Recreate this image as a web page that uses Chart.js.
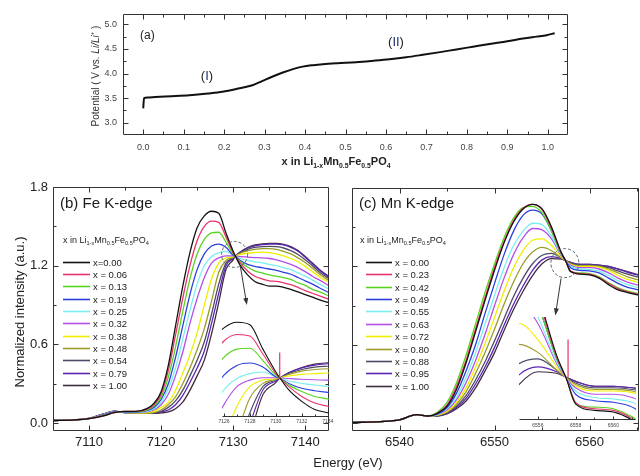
<!DOCTYPE html>
<html><head><meta charset="utf-8">
<script src="https://cdn.jsdelivr.net/npm/chart.js@4/dist/chart.umd.min.js"></script>
<style>
html,body{margin:0;padding:0;background:#fff;width:640px;height:476px;overflow:hidden}
canvas{position:absolute;left:0;top:0}
</style>
</head><body>
<canvas id="ca" width="640" height="476"></canvas>
<canvas id="cb" width="640" height="476"></canvas>
<canvas id="cc" width="640" height="476"></canvas>
<canvas id="ib" width="640" height="476"></canvas>
<canvas id="ic" width="640" height="476"></canvas>
<script>
// ---------- DATA ----------
// (a) charge curve
const potX = [0, 0.002, 0.01, 0.031, 0.07, 0.114, 0.16, 0.196, 0.238, 0.27, 0.295, 0.32, 0.345, 0.37, 0.394, 0.42, 0.444, 0.48, 0.526, 0.57, 0.609, 0.65, 0.691, 0.73, 0.774, 0.815, 0.856, 0.9, 0.939, 0.972, 0.997, 1.017];
const potV = [3.29, 3.50, 3.51, 3.525, 3.54, 3.56, 3.595, 3.63, 3.70, 3.76, 3.85, 3.94, 4.02, 4.09, 4.14, 4.17, 4.19, 4.21, 4.23, 4.26, 4.29, 4.33, 4.38, 4.43, 4.49, 4.545, 4.60, 4.655, 4.71, 4.75, 4.78, 4.82];
const potXTicks = [0, 0.1, 0.2, 0.3, 0.4, 0.5, 0.6, 0.7, 0.8, 0.9, 1.0];
const potYTicks = [3.0, 3.5, 4.0, 4.5, 5.0];

// (b) Fe K-edge
const feE = [7105, 7108, 7110, 7112, 7113.5, 7115, 7116.5, 7118, 7119, 7120, 7121, 7122, 7123, 7124, 7125, 7126, 7127, 7128, 7129, 7130, 7130.3, 7131, 7132, 7133, 7134, 7135, 7136, 7137, 7138, 7139, 7140, 7141, 7142, 7143.5];
const fe000 = [0.02,0.025,0.035,0.055,0.08,0.09,0.09, 0.11,0.15,0.24,0.44,0.74,1.04,1.3,1.49,1.58,1.615,1.6,1.45,1.31,1.275,1.2,1.13,1.08,1.06,1.045,1.045,1.035,1.02,1.0,0.98,0.96,0.94,0.915];
const fe006 = [0.02,0.025,0.035,0.055,0.08,0.09,0.09, 0.105,0.14,0.22,0.4,0.67,0.95,1.2,1.39,1.5,1.54,1.53,1.42,1.3,1.274,1.22,1.16,1.12,1.1,1.085,1.08,1.07,1.055,1.035,1.01,0.99,0.97,0.94];
const fe013 = [0.02,0.025,0.035,0.058,0.082,0.088,0.088, 0.1,0.13,0.2,0.35,0.58,0.85,1.1,1.29,1.4,1.45,1.455,1.38,1.29,1.273,1.23,1.19,1.16,1.145,1.13,1.12,1.11,1.095,1.07,1.05,1.02,1.0,0.965];
const fe019 = [0.02,0.025,0.035,0.062,0.086,0.085,0.085, 0.095,0.12,0.18,0.3,0.5,0.74,0.98,1.17,1.29,1.35,1.365,1.34,1.28,1.272,1.24,1.21,1.195,1.185,1.175,1.165,1.15,1.135,1.11,1.085,1.06,1.03,0.99];
const fe025 = [0.02,0.025,0.035,0.062,0.086,0.084,0.082, 0.09,0.11,0.16,0.26,0.42,0.64,0.86,1.06,1.2,1.27,1.3,1.31,1.28,1.273,1.255,1.24,1.23,1.222,1.21,1.2,1.185,1.17,1.145,1.12,1.09,1.06,1.015];
const fe032 = [0.02,0.025,0.036,0.065,0.088,0.083,0.08, 0.085,0.1,0.14,0.22,0.36,0.54,0.76,0.95,1.11,1.22,1.26,1.275,1.275,1.274,1.27,1.265,1.262,1.26,1.255,1.245,1.23,1.21,1.185,1.155,1.12,1.09,1.04];
const fe038 = [0.02,0.025,0.036,0.065,0.088,0.082,0.078, 0.08,0.09,0.12,0.16,0.25,0.38,0.52,0.69,0.9,1.1,1.22,1.26,1.268,1.274,1.285,1.295,1.3,1.304,1.3,1.29,1.275,1.255,1.23,1.195,1.155,1.115,1.065];
const fe048 = [0.02,0.026,0.037,0.068,0.09,0.082,0.076, 0.075,0.08,0.1,0.14,0.2,0.3,0.42,0.56,0.72,0.93,1.15,1.24,1.265,1.274,1.295,1.315,1.325,1.33,1.33,1.325,1.31,1.29,1.26,1.225,1.18,1.135,1.08];
const fe054 = [0.02,0.026,0.037,0.068,0.09,0.08,0.075, 0.075,0.078,0.09,0.12,0.17,0.25,0.36,0.48,0.62,0.83,1.06,1.22,1.26,1.273,1.3,1.325,1.34,1.345,1.348,1.345,1.335,1.315,1.285,1.245,1.2,1.15,1.095];
const fe079 = [0.02,0.026,0.037,0.07,0.092,0.08,0.074, 0.075,0.076,0.085,0.1,0.14,0.21,0.31,0.42,0.55,0.76,0.99,1.2,1.255,1.272,1.305,1.335,1.352,1.36,1.365,1.365,1.358,1.34,1.31,1.265,1.215,1.165,1.105];
const fe100 = [0.02,0.026,0.037,0.07,0.092,0.08,0.074, 0.075,0.074,0.078,0.085,0.11,0.16,0.25,0.36,0.48,0.68,0.92,1.17,1.245,1.272,1.305,1.338,1.358,1.366,1.37,1.37,1.363,1.345,1.315,1.27,1.22,1.17,1.11];
const feLabels = ['x=0.00','x = 0.06','x = 0.13','x = 0.19','x = 0.25','x = 0.32','x = 0.38','x = 0.48','x = 0.54','x = 0.79','x = 1.00'];
const feXTicks = [7110, 7120, 7130, 7140];
const feInsetTicks = [7126, 7128, 7130, 7132, 7134];
const feMarkX = [7130.3, 7130.3];
const feMarkY = [1.272, 1.43];

// (c) Mn K-edge
const mnE = [6535, 6538, 6540, 6541.8, 6543, 6544, 6545, 6546, 6547, 6548, 6549, 6550, 6551, 6552, 6553, 6554, 6555, 6556, 6557, 6557.5, 6558, 6559, 6560, 6561, 6562, 6563, 6564, 6565.2];
const mn000 = [0.005,0.012,0.025,0.065,0.055, 0.075,0.13,0.26,0.46,0.7,0.94,1.17,1.38,1.54,1.64,1.675,1.64,1.5,1.31,1.24,1.16,1.14,1.135,1.11,1.06,1.02,1.0,0.98];
const mn023 = [0.005,0.012,0.025,0.065,0.055, 0.078,0.14,0.28,0.48,0.72,0.96,1.19,1.39,1.55,1.645,1.675,1.635,1.49,1.305,1.24,1.165,1.145,1.14,1.115,1.07,1.03,1.005,0.985];
const mn042 = [0.005,0.012,0.025,0.065,0.055, 0.085,0.16,0.31,0.52,0.76,1.0,1.22,1.42,1.57,1.65,1.66,1.61,1.47,1.3,1.24,1.16,1.15,1.145,1.12,1.075,1.035,1.01,0.99];
const mn049 = [0.005,0.012,0.025,0.065,0.055, 0.07,0.12,0.23,0.4,0.6,0.84,1.07,1.29,1.47,1.59,1.63,1.6,1.47,1.3,1.24,1.19,1.17,1.165,1.15,1.11,1.07,1.04,1.02];
const mn055 = [0.005,0.012,0.025,0.065,0.055, 0.068,0.11,0.2,0.35,0.54,0.76,0.98,1.19,1.36,1.47,1.53,1.52,1.43,1.29,1.24,1.2,1.18,1.175,1.165,1.13,1.09,1.06,1.035];
const mn063 = [0.005,0.012,0.025,0.065,0.055, 0.065,0.1,0.18,0.31,0.48,0.68,0.9,1.11,1.29,1.42,1.49,1.48,1.41,1.285,1.24,1.21,1.19,1.19,1.18,1.15,1.11,1.08,1.055];
const mn072 = [0.005,0.012,0.025,0.065,0.055, 0.062,0.09,0.16,0.27,0.43,0.61,0.81,1.01,1.19,1.32,1.4,1.41,1.36,1.275,1.24,1.215,1.2,1.2,1.195,1.17,1.13,1.1,1.075];
const mn080 = [0.005,0.012,0.025,0.065,0.055, 0.06,0.085,0.145,0.24,0.38,0.54,0.72,0.91,1.08,1.22,1.31,1.345,1.32,1.265,1.242,1.22,1.205,1.205,1.2,1.18,1.15,1.12,1.095];
const mn088 = [0.005,0.012,0.025,0.065,0.055, 0.058,0.08,0.13,0.21,0.33,0.47,0.63,0.8,0.97,1.11,1.22,1.285,1.3,1.265,1.243,1.225,1.21,1.21,1.205,1.19,1.165,1.14,1.115];
const mn095 = [0.005,0.012,0.025,0.065,0.055, 0.056,0.075,0.12,0.19,0.3,0.43,0.58,0.75,0.91,1.05,1.17,1.25,1.275,1.26,1.243,1.23,1.215,1.215,1.21,1.2,1.18,1.155,1.13];
const mn100 = [0.005,0.012,0.025,0.065,0.055, 0.055,0.07,0.11,0.17,0.27,0.4,0.54,0.71,0.87,1.01,1.13,1.22,1.26,1.255,1.243,1.23,1.215,1.215,1.21,1.2,1.18,1.16,1.135];
const mnLabels = ['x = 0.00','x = 0.23','x = 0.42','x = 0.49','x = 0.55','x = 0.63','x = 0.72','x = 0.80','x = 0.88','x = 0.95','x = 1.00'];
const mnXTicks = [6540, 6550, 6560];
const mnInsetTicks = [6556, 6558, 6560];
const mnMarkX = [6557.6, 6557.6];
const mnMarkY = [1.243, 1.36];

const intYTicks = [0, 0.6, 1.2, 1.8];

// ---------- STYLE ----------
const FONT = "'Liberation Sans', Arial, Helvetica, sans-serif";
const COLORS = ['#111111','#e8346c','#58d420','#2c3fe0','#7aeef0','#b450e6','#f2ee00','#9c9c28','#4b4b68','#5f24b4','#3e2c40'];
const PINK = '#e8346c';

const feSeries = [fe000, fe006, fe013, fe019, fe025, fe032, fe038, fe048, fe054, fe079, fe100];
const mnSeries = [mn000, mn023, mn042, mn049, mn055, mn063, mn072, mn080, mn088, mn095, mn100];

function pts(xs, ys) { return xs.map((x, i) => ({x: x, y: ys[i]})); }
function seriesSets(xs, list, lw) {
  return list.map((ys, i) => ({data: pts(xs, ys), borderColor: COLORS[i], borderWidth: lw, fill: false}));
}
function mids(arr, lo, hi) {
  const out = [];
  const step = arr[1] - arr[0];
  for (let v = arr[0] - step / 2; v <= arr[arr.length - 1] + step / 2 + 1e-9; v += step) {
    if (v > lo + 1e-9 && v < hi - 1e-9) out.push(v);
  }
  return out;
}

// ---------- PLUGINS ----------
const FRAME = {}, DECOR = {};

function drawRich(ctx, t) {
  const base = t.size;
  const segs = t.segs || [[t.text, '']];
  const fontOf = (k) => {
    const sz = (k === 'sub' || k === 'sup') ? base * 0.62 : base;
    return (k === 'i' || t.italic ? 'italic ' : '') + (t.bold ? 'bold ' : '') + sz + 'px ' + FONT;
  };
  let w = 0;
  segs.forEach(s => { ctx.font = fontOf(s[1]); w += ctx.measureText(s[0]).width; });
  ctx.save();
  ctx.translate(t.x, t.y);
  if (t.rot) ctx.rotate(-Math.PI / 2);
  let x0 = t.align === 'center' ? -w / 2 : 0;
  ctx.fillStyle = t.color || '#222';
  ctx.textBaseline = 'alphabetic';
  segs.forEach(s => {
    ctx.font = fontOf(s[1]);
    const dy = s[1] === 'sub' ? base * 0.25 : (s[1] === 'sup' ? -base * 0.42 : 0);
    if (s[2]) ctx.fillStyle = s[2]; else ctx.fillStyle = t.color || '#222';
    ctx.fillText(s[0], x0, base * 0.36 + dy);
    x0 += ctx.measureText(s[0]).width;
  });
  ctx.restore();
}

const framePlugin = {
  id: 'frame',
  afterDatasetsDraw(chart) {
    const o = FRAME[chart.canvas.id];
    if (!o) return;
    const ctx = chart.ctx, a = chart.chartArea, sx = chart.scales.x, sy = chart.scales.y;
    const L = Math.round(a.left) + 0.5, R = Math.round(a.right) - 0.5;
    const T = Math.round(a.top) + 0.5, B = Math.round(a.bottom) - 0.5;
    ctx.save();
    ctx.strokeStyle = o.color || '#333';
    ctx.lineWidth = 1;
    ctx.beginPath();
    if (o.bottomOnly) {
      ctx.moveTo(L, B); ctx.lineTo(R, B);
      o.xMajor.forEach(v => { const p = Math.round(sx.getPixelForValue(v)) + 0.5; ctx.moveTo(p, B); ctx.lineTo(p, B - 3); });
      (o.xMinor || []).forEach(v => { const p = Math.round(sx.getPixelForValue(v)) + 0.5; ctx.moveTo(p, B); ctx.lineTo(p, B - 2); });
      ctx.stroke(); ctx.restore(); return;
    }
    ctx.rect(L, T, R - L, B - T);
    const M = o.major, m = o.minor;
    o.xMajor.forEach(v => { const p = Math.round(sx.getPixelForValue(v)) + 0.5; ctx.moveTo(p, B); ctx.lineTo(p, B - M); ctx.moveTo(p, T); ctx.lineTo(p, T + M); });
    o.xMinor.forEach(v => { const p = Math.round(sx.getPixelForValue(v)) + 0.5; ctx.moveTo(p, B); ctx.lineTo(p, B - m); ctx.moveTo(p, T); ctx.lineTo(p, T + m); });
    o.yMajor.forEach(v => { const p = Math.round(sy.getPixelForValue(v)) + 0.5; ctx.moveTo(L, p); ctx.lineTo(L + M, p); ctx.moveTo(R, p); ctx.lineTo(R - M, p); });
    o.yMinor.forEach(v => { const p = Math.round(sy.getPixelForValue(v)) + 0.5; ctx.moveTo(L, p); ctx.lineTo(L + m, p); ctx.moveTo(R, p); ctx.lineTo(R - m, p); });
    ctx.stroke();
    ctx.restore();
  }
};

const decorPlugin = {
  id: 'decor',
  afterDraw(chart) {
    const o = DECOR[chart.canvas.id];
    if (!o) return;
    const ctx = chart.ctx, sx = chart.scales.x, sy = chart.scales.y;
    ctx.save();
    (o.circles || []).forEach(c => {
      ctx.beginPath();
      ctx.setLineDash([3, 2]);
      ctx.strokeStyle = '#5a6070';
      ctx.lineWidth = 1;
      ctx.ellipse(sx.getPixelForValue(c.x), sy.getPixelForValue(c.y), c.rx, c.ry, 0, 0, Math.PI * 2);
      ctx.stroke();
    });
    ctx.setLineDash([]);
    (o.arrows || []).forEach(a => {
      const x1 = sx.getPixelForValue(a.x1), y1 = sy.getPixelForValue(a.y1);
      const x2 = sx.getPixelForValue(a.x2), y2 = sy.getPixelForValue(a.y2);
      const ang = Math.atan2(y2 - y1, x2 - x1);
      ctx.strokeStyle = '#333'; ctx.fillStyle = '#333'; ctx.lineWidth = 1;
      ctx.beginPath(); ctx.moveTo(x1, y1); ctx.lineTo(x2 - 5 * Math.cos(ang), y2 - 5 * Math.sin(ang)); ctx.stroke();
      ctx.beginPath();
      ctx.moveTo(x2, y2);
      ctx.lineTo(x2 - 7 * Math.cos(ang) + 2.5 * Math.sin(ang), y2 - 7 * Math.sin(ang) - 2.5 * Math.cos(ang));
      ctx.lineTo(x2 - 7 * Math.cos(ang) - 2.5 * Math.sin(ang), y2 - 7 * Math.sin(ang) + 2.5 * Math.cos(ang));
      ctx.closePath(); ctx.fill();
    });
    (o.texts || []).forEach(t => drawRich(ctx, t));
    if (o.legend) {
      const L = o.legend;
      L.labels.forEach((lab, i) => {
        const y = Math.round(L.y0 + i * L.dy) + 0.5;
        ctx.strokeStyle = COLORS[i]; ctx.lineWidth = 1.6;
        ctx.beginPath(); ctx.moveTo(L.x1, y); ctx.lineTo(L.x2, y); ctx.stroke();
        ctx.fillStyle = '#222'; ctx.font = L.size + 'px ' + FONT; ctx.textBaseline = 'middle';
        ctx.fillText(lab, L.tx, y + 0.5);
      });
    }
    ctx.restore();
  }
};

function mkChart(id, datasets, o) {
  return new Chart(document.getElementById(id), {
    type: 'line',
    data: {datasets: datasets},
    options: {
      responsive: false, animation: false, events: [],
      layout: {padding: o.pad},
      plugins: {legend: {display: false}, tooltip: {enabled: false}},
      elements: {point: {radius: 0}, line: {cubicInterpolationMode: 'monotone'}},
      scales: {
        x: {
          type: 'linear', min: o.xmin, max: o.xmax,
          grid: {display: false, drawTicks: false}, border: {display: false},
          afterFit: s => { s.height = o.xh; },
          afterBuildTicks: s => { s.ticks = o.xticks.map(v => ({value: v})); },
          ticks: {font: {family: FONT, size: o.xfs}, color: o.tc, padding: o.xpad, maxRotation: 0, autoSkip: false,
                  callback: v => o.xfmt ? o.xfmt(v) : String(v)}
        },
        y: {
          type: 'linear', display: o.ydisp, min: o.ymin, max: o.ymax,
          grid: {display: false, drawTicks: false}, border: {display: false},
          afterFit: s => { s.width = o.yw; },
          afterBuildTicks: s => { s.ticks = (o.yticks || []).map(v => ({value: v})); },
          ticks: {font: {family: FONT, size: o.yfs || 10}, color: o.tc, padding: o.ypad || 5,
                  callback: v => Number(v).toFixed(1)}
        }
      }
    },
    plugins: [framePlugin, decorPlugin]
  });
}

const subF = [['x in Li', ''], ['1-x', 'sub'], ['Mn', ''], ['0.5', 'sub'], ['Fe', ''], ['0.5', 'sub'], ['PO', ''], ['4', 'sub']];

// ---------- (a) ----------
FRAME.ca = {xMajor: potXTicks, xMinor: mids(potXTicks, -0.05, 1.05), yMajor: potYTicks, yMinor: mids(potYTicks, 2.75, 5.21), major: 5, minor: 3};
DECOR.ca = {texts: [
  {x: 140, y: 35, text: '(a)', size: 12, color: '#222'},
  {x: 207, y: 75, align: 'center', size: 13, segs: [['(', ''], ['I', '', '#23306e'], [')', '']]},
  {x: 396, y: 41, align: 'center', size: 13, segs: [['(', ''], ['II', '', '#23306e'], [')', '']]},
  {x: 95, y: 76, rot: true, align: 'center', size: 10, color: '#333', segs: [['Potential ( V vs. ', ''], ['Li/Li', 'i'], ['+', 'sup'], [' )', '']]},
  {x: 336, y: 161, align: 'center', size: 11, bold: true, color: '#222', segs: subF}
]};
mkChart('ca', [{data: pts(potX, potV), borderColor: '#111', borderWidth: 2, fill: false}], {
  pad: {left: 0, top: 14, right: 72, bottom: 321},
  xmin: -0.05, xmax: 1.05, xh: 20, xticks: potXTicks, xfs: 9, xpad: 7, xfmt: v => Number(v).toFixed(1),
  ydisp: true, ymin: 2.75, ymax: 5.21, yw: 123, yticks: potYTicks, yfs: 9, ypad: 6, tc: '#444'
});

// ---------- (b) ----------
FRAME.cb = {xMajor: feXTicks, xMinor: mids(feXTicks, 7105, 7143.3), yMajor: intYTicks, yMinor: mids(intYTicks, -0.06, 1.8), major: 5, minor: 3};
DECOR.cb = {
  circles: [{x: 7130.2, y: 1.286, rx: 13, ry: 13}],
  arrows: [{x1: 7131.0, y1: 1.195, x2: 7131.9, y2: 0.9}],
  texts: [
    {x: 60, y: 203, text: '(b) Fe K-edge', size: 15, color: '#1a1a1a'},
    {x: 63, y: 240, size: 9, color: '#222', segs: subF},
    {x: 19, y: 312, rot: true, align: 'center', text: 'Normalized intensity (a.u.)', size: 13, color: '#222'},
    {x: 348, y: 462, align: 'center', text: 'Energy (eV)', size: 13, color: '#222'}
  ],
  legend: {labels: feLabels, x1: 63, x2: 90, tx: 93, y0: 261.7, dy: 12.33, size: 9.5}
};
mkChart('cb', seriesSets(feE, feSeries, 1.3), {
  pad: {left: 0, top: 187, right: 311, bottom: 25},
  xmin: 7105, xmax: 7143.3, xh: 20, xticks: feXTicks, xfs: 13, xpad: 4,
  ydisp: true, ymin: -0.06, ymax: 1.8, yw: 53, yticks: intYTicks, yfs: 13, ypad: 5, tc: '#222'
});

// ---------- (c) ----------
FRAME.cc = {xMajor: mnXTicks, xMinor: mids(mnXTicks, 6535, 6565.2), yMajor: intYTicks, yMinor: mids(intYTicks, -0.06, 1.8), major: 5, minor: 3};
DECOR.cc = {
  circles: [{x: 6557.4, y: 1.225, rx: 14, ry: 14.5}],
  arrows: [{x1: 6557.0, y1: 1.108, x2: 6556.4, y2: 0.825}],
  texts: [
    {x: 359, y: 203, text: '(c) Mn K-edge', size: 15, color: '#1a1a1a'},
    {x: 360, y: 240, size: 9, color: '#222', segs: subF}
  ],
  legend: {labels: mnLabels, x1: 366, x2: 392, tx: 395, y0: 261.7, dy: 12.4, size: 9.5}
};
mkChart('cc', seriesSets(mnE, mnSeries, 1.3), {
  pad: {left: 352, top: 188, right: 1, bottom: 25},
  xmin: 6535, xmax: 6565.2, xh: 20, xticks: mnXTicks, xfs: 13, xpad: 4,
  ydisp: false, ymin: -0.06, ymax: 1.8, yw: 0, tc: '#222'
});

// ---------- insets ----------
FRAME.ib = {bottomOnly: true, xMajor: feInsetTicks, xMinor: mids(feInsetTicks, 7125.85, 7134.1), color: '#333'};
mkChart('ib', [{data: pts(feMarkX, feMarkY), borderColor: PINK, borderWidth: 1.2, fill: false}].concat(seriesSets(feE, feSeries, 1.1)), {
  pad: {left: 222, top: 317, right: 311, bottom: 47},
  xmin: 7125.85, xmax: 7134.1, xh: 12, xticks: feInsetTicks, xfs: 5, xpad: 1.5,
  ydisp: false, ymin: 1.034, ymax: 1.647, yw: 0, tc: '#444'
});
FRAME.ic = {bottomOnly: true, xMajor: mnInsetTicks, xMinor: mids(mnInsetTicks, 6555, 6561.2), color: '#333'};
mkChart('ic', [{data: pts(mnMarkX, mnMarkY), borderColor: PINK, borderWidth: 1.2, fill: false}].concat(seriesSets(mnE, mnSeries, 1.1)), {
  pad: {left: 519, top: 317, right: 4, bottom: 44},
  xmin: 6555.0, xmax: 6561.2, xh: 12, xticks: mnInsetTicks, xfs: 5, xpad: 3,
  ydisp: false, ymin: 1.11, ymax: 1.43, yw: 0, tc: '#444'
});
</script>
</body></html>
